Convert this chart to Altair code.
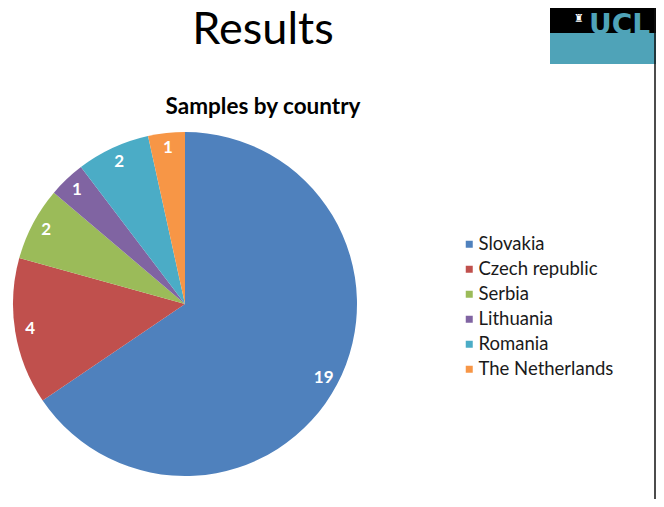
import altair as alt
import pandas as pd

countries = ["Slovakia", "Czech republic", "Serbia", "Lithuania", "Romania", "The Netherlands"]
samples = [19, 4, 2, 1, 2, 1]
colors = ["#4F81BD", "#C0504D", "#9BBB59", "#8064A2", "#4BACC6", "#F79646"]
order = list(range(len(countries)))

df = pd.DataFrame({"country": countries, "samples": samples, "ord": order})

W, H = 648, 491
CX, CY, R = 177, 296, 172
FONT = "Lato"

color = alt.Color(
    "country:N",
    scale=alt.Scale(domain=countries, range=colors),
    sort=countries,
    legend=alt.Legend(
        title=None,
        orient="none",
        legendX=452,
        legendY=227,
        symbolType="square",
        symbolSize=49,
        symbolStrokeWidth=0,
        labelFont=FONT,
        labelFontSize=18.5,
        labelColor="#1a1a1a",
        rowPadding=6,
        labelOffset=0,
        labelLimit=300,
    ),
)

base = alt.Chart(df).encode(
    theta=alt.Theta("samples:Q", stack=True),
    order=alt.Order("ord:Q"),
)

pie = base.mark_arc(outerRadius=R, strokeWidth=0).encode(
    color=color,
    x=alt.value(CX),
    y=alt.value(CY),
)

labels = base.mark_text(
    radius=157, font=FONT, fontSize=17, fontWeight="bold", color="white"
).encode(
    text="samples:Q",
    x=alt.value(CX),
    y=alt.value(CY),
)

one = pd.DataFrame({"a": [0]})

title = alt.Chart(one).mark_text(
    text="Results", font=FONT, fontSize=45, color="black", baseline="alphabetic", align="center"
).encode(x=alt.value(255), y=alt.value(36))

subtitle = alt.Chart(one).mark_text(
    text="Samples by country", font=FONT, fontSize=22.5, fontWeight="bold", color="black",
    baseline="alphabetic", align="center"
).encode(x=alt.value(255), y=alt.value(106))

logo_black = alt.Chart(one).mark_rect(color="#000000").encode(
    x=alt.value(542), x2=alt.value(648), y=alt.value(0), y2=alt.value(25)
)
logo_teal = alt.Chart(one).mark_rect(color="#4FA3B8").encode(
    x=alt.value(542), x2=alt.value(648), y=alt.value(25), y2=alt.value(56)
)
logo_text = alt.Chart(one).mark_text(
    text="UCL", font="DejaVu Sans", fontSize=28, fontWeight="bold", color="#4FA3B8",
    baseline="alphabetic", align="left"
).encode(x=alt.value(581), y=alt.value(26))
logo_icon = alt.Chart(one).mark_text(
    text="♜", font="DejaVu Sans", fontSize=11, color="white",
    baseline="middle", align="center"
).encode(x=alt.value(571), y=alt.value(11))

edge = alt.Chart(one).mark_rule(color="#111111", strokeWidth=1.5).encode(
    x=alt.value(647), y=alt.value(0), y2=alt.value(H)
)

chart = alt.layer(
    pie, labels, title, subtitle, logo_black, logo_teal, logo_text, logo_icon, edge
).properties(
    width=W, height=H, autosize=alt.AutoSizeParams(type="none"), padding=0
).configure(
    background="white",
    view=alt.ViewConfig(strokeWidth=0, stroke="transparent"),
)

chart.save("out.html", embed_options={"renderer": "svg", "actions": False})
